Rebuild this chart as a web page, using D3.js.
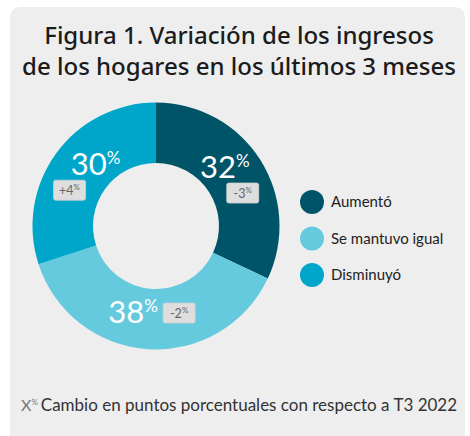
<!DOCTYPE html>
<head>
    <meta charset="utf-8">
    <script src="https://d3js.org/d3.v7.min.js"></script>
    <style>
        body { margin:0; background:#fff; }
        .title { font-family: 'Noto Sans', sans-serif; font-size: 24px; font-weight: 500; fill: #1b1b1b; }
        .big { font-family: 'Lato', sans-serif; font-weight: 400; fill: #fff; }
        .badge-text { font-family: 'Lato', sans-serif; fill: #666; }
        .legend-text { font-family: 'Lato', sans-serif; font-size: 15px; fill: #222; }
        .note { font-family: 'Lato', sans-serif; font-size: 17px; fill: #333; }
    </style>
</head>
<body>
<script>
    const categories = ['Aumentó', 'Se mantuvo igual', 'Disminuyó'];
    const shares = [32, 38, 30];
    const changes = ['-3', '-2', '+4'];
    const titleLines = ['Figura 1. Variación de los ingresos', 'de los hogares en los últimos 3 meses'];
    const note = 'Cambio en puntos porcentuales con respecto a T3 2022';

    const colors = ['#005468', '#66cadf', '#00a6c9'];
    // label nudges from the arc centroid: [text dx, dy, badge dx, dy]
    const labelNudge = [[-10, 2, 8, 17], [-17, 4, 29, -6], [15, 4, -11, 19]];

    const width = 470, height = 436;
    const cx = 156, cy = 226, outerR = 123.5, innerR = 63;

    const svg = d3.select('body').append('svg')
        .attr('width', width)
        .attr('height', height);

    svg.append('rect')
        .attr('x', 10).attr('y', 7)
        .attr('width', 455).attr('height', 450)
        .attr('rx', 10)
        .attr('fill', '#eeeeee');

    svg.selectAll('.title')
        .data(titleLines)
        .enter().append('text')
        .attr('class', 'title')
        .attr('x', 239)
        .attr('y', (d, i) => 44 + i * 31)
        .attr('text-anchor', 'middle')
        .text(d => d);

    const pie = d3.pie().sort(null).value(d => d);
    const arc = d3.arc().innerRadius(innerR).outerRadius(outerR);
    const arcs = pie(shares);

    const chart = svg.append('g')
        .attr('transform', `translate(${cx},${cy})`);

    chart.selectAll('path')
        .data(arcs)
        .enter().append('path')
        .attr('d', arc)
        .attr('fill', (d, i) => colors[i]);

    arcs.forEach((a, i) => {
        const [x, y] = arc.centroid(a);
        const n = labelNudge[i];

        const t = chart.append('text')
            .attr('class', 'big')
            .attr('x', x + n[0])
            .attr('y', y + n[1])
            .attr('text-anchor', 'middle');
        t.append('tspan').attr('font-size', 31).text(shares[i]);
        t.append('tspan').attr('font-size', 17).attr('dy', -11).text('%');

        const bx = x + n[2], by = y + n[3];
        chart.append('rect')
            .attr('x', bx - 16).attr('y', by - 10)
            .attr('width', 32).attr('height', 20)
            .attr('rx', 2)
            .attr('fill', '#dedede')
            .attr('stroke', '#d0d0d0')
            .attr('stroke-width', 0.8);

        const b = chart.append('text')
            .attr('class', 'badge-text')
            .attr('x', bx)
            .attr('y', by + 4.5)
            .attr('text-anchor', 'middle');
        b.append('tspan').attr('font-size', 12.5).text(changes[i]);
        b.append('tspan').attr('font-size', 8).attr('dy', -5).text('%');
    });

    const legend = svg.append('g')
        .attr('transform', 'translate(312,202)');

    const items = legend.selectAll('g')
        .data(categories)
        .enter().append('g')
        .attr('transform', (d, i) => `translate(0,${i * 36.5})`);

    items.append('circle')
        .attr('r', 12)
        .attr('fill', (d, i) => colors[i]);

    items.append('text')
        .attr('class', 'legend-text')
        .attr('x', 19)
        .attr('y', 5)
        .text(d => d);

    const nt = svg.append('text')
        .attr('class', 'note')
        .attr('x', 21)
        .attr('y', 411);
    nt.append('tspan').attr('fill', '#777').attr('font-size', 16).text('X');
    nt.append('tspan').attr('fill', '#777').attr('font-size', 8).attr('dy', -6).text('%');
    nt.append('tspan').attr('dy', 6).attr('dx', 3).text(note);
</script>
</body>
